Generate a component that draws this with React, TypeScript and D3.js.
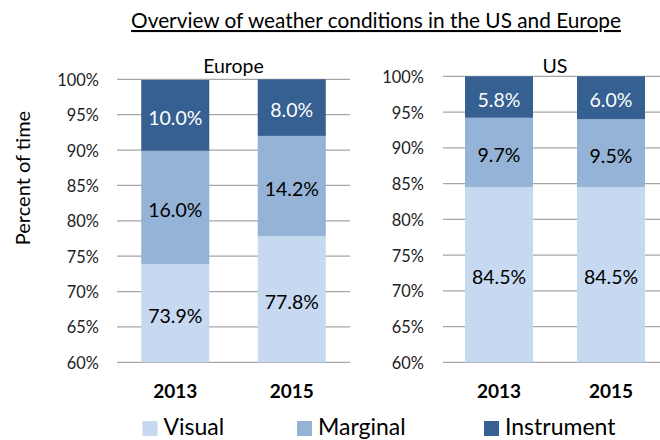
import React from "react";
import * as d3 from "d3";

const title = "Overview of weather conditions in the US and Europe";
const years = ["2013", "2015"];
const seriesNames = ["Visual", "Marginal", "Instrument"];
const seriesColors = ["#C6D9F1", "#95B3D7", "#366092"];
const labelColors = ["#000000", "#000000", "#FFFFFF"];
const europeVisual = [73.9, 77.8];
const europeMarginal = [16.0, 14.2];
const europeInstrument = [10.0, 8.0];
const usVisual = [84.5, 84.5];
const usMarginal = [9.7, 9.5];
const usInstrument = [5.8, 6.0];
const yTicks = [60, 65, 70, 75, 80, 85, 90, 95, 100];

const FONT = "Lato, 'Open Sans', sans-serif";

type PanelProps = {
  name: string;
  series: number[][];
  x0: number;
  x1: number;
  yTop: number;
  yBottom: number;
  padding: number;
  labelX: number;
};

function Panel({ name, series, x0, x1, yTop, yBottom, padding, labelX }: PanelProps) {
  const x = d3.scaleBand<string>().domain(years).range([x0, x1]).paddingInner(padding).paddingOuter(padding / 2);
  const y = d3.scaleLinear().domain([60, 100]).range([yBottom, yTop]);
  const rows = years.map((yr, i) => {
    const obj: any = { year: yr };
    seriesNames.forEach((s, k) => (obj[s] = series[k][i]));
    return obj;
  });
  const stacked = d3.stack<any>().keys(seriesNames)(rows);
  return (
    <g>
      {yTicks.map((t) => (
        <g key={t}>
          <line x1={x0} x2={x1} y1={y(t)} y2={y(t)} stroke="#A6A6A6" strokeWidth={1.2} />
          <text x={labelX} y={y(t)} textAnchor="end" dominantBaseline="central" fontSize={16.4} fontFamily={FONT} fill="#222">
            {t}%
          </text>
        </g>
      ))}
      {stacked.map((layer, k) =>
        layer.map((d, i) => {
          const lo = Math.max(60, d[0]);
          const hi = Math.min(100, d[1]);
          const bx = x(years[i])!;
          const bw = x.bandwidth();
          const top = y(hi);
          const bot = y(lo);
          return (
            <g key={`${k}-${i}`}>
              <rect x={bx} y={top} width={bw} height={bot - top} fill={seriesColors[k]} />
              <text
                x={bx + bw / 2}
                y={(top + bot) / 2 + 2}
                textAnchor="middle"
                dominantBaseline="central"
                fontSize={19.5}
                fontFamily={FONT}
                fill={labelColors[k]}
              >
                {series[k][i].toFixed(1)}%
              </text>
            </g>
          );
        })
      )}
      <text x={(x0 + x1) / 2} y={73} textAnchor="middle" fontSize={19.5} fontFamily={FONT} fill="#000">
        {name}
      </text>
      {years.map((yr) => (
        <text
          key={yr}
          x={x(yr)! + x.bandwidth() / 2}
          y={398}
          textAnchor="middle"
          fontSize={19}
          fontWeight="bold"
          fontFamily={FONT}
          fill="#000"
        >
          {yr}
        </text>
      ))}
    </g>
  );
}

const legendX = [142.5, 297, 484];

export default function App() {
  return (
    <svg width={660} height={440} style={{ position: "absolute", left: 0, top: 0, background: "#fff" }}>
      <rect width={660} height={440} fill="#fff" />
      <text x={376} y={28} textAnchor="middle" fontSize={20.8} fontFamily={FONT} fill="#000" textDecoration="underline">
        {title}
      </text>
      <text
        transform="translate(22,178) rotate(-90)"
        textAnchor="middle"
        dominantBaseline="central"
        fontSize={20}
        fontFamily={FONT}
        fill="#000"
      >
        Percent of time
      </text>
      <Panel
        name="Europe"
        series={[europeVisual, europeMarginal, europeInstrument]}
        x0={117}
        x1={350}
        yTop={79.3}
        yBottom={362.3}
        padding={0.416}
        labelX={99}
      />
      <Panel
        name="US"
        series={[usVisual, usMarginal, usInstrument]}
        x0={443}
        x1={667}
        yTop={76.3}
        yBottom={362.3}
        padding={0.393}
        labelX={424}
      />
      {seriesNames.map((s, k) => (
        <g key={s}>
          <rect x={legendX[k]} y={421} width={15} height={15} fill={seriesColors[k]} />
          <text x={legendX[k] + 21} y={435} fontSize={23} fontFamily={FONT} fill="#000">
            {s}
          </text>
        </g>
      ))}
    </svg>
  );
}
